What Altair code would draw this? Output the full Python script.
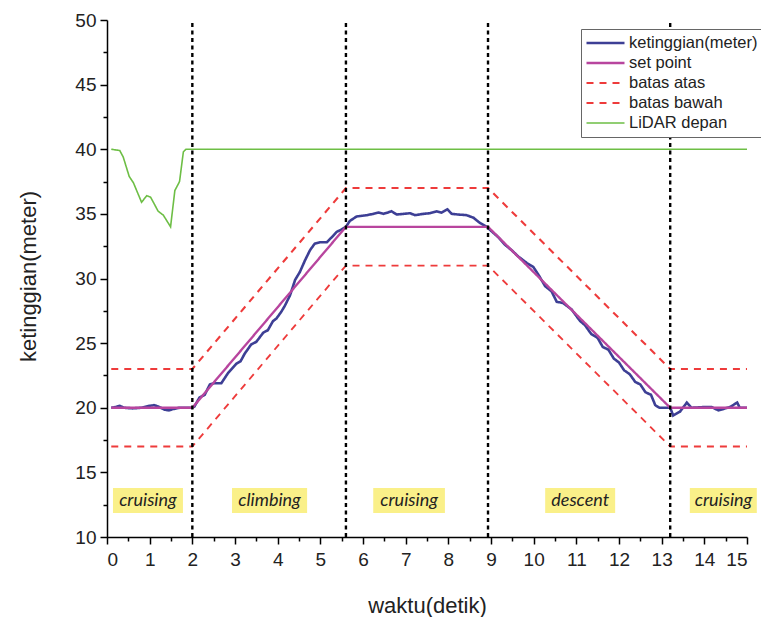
import altair as alt
import pandas as pd

# Measured altitude (s, m)
t_alt = [0.1, 0.2, 0.3, 0.4, 0.6, 0.8, 1.0, 1.1, 1.2, 1.35, 1.45, 1.55, 1.7, 2.0,
         2.05, 2.17, 2.29, 2.41, 2.52, 2.68, 2.84, 3.03, 3.13, 3.23, 3.38, 3.50,
         3.66, 3.77, 3.89, 3.97, 4.08, 4.17, 4.29, 4.41, 4.52, 4.64, 4.76, 4.87,
         4.99, 5.15, 5.27, 5.38, 5.50, 5.60, 5.69, 5.85, 6.09, 6.24, 6.36, 6.48,
         6.67, 6.79, 6.95, 7.10, 7.22, 7.41, 7.57, 7.73, 7.84, 7.98, 8.08, 8.23,
         8.43, 8.59, 8.74, 8.90, 8.98, 9.17, 9.33, 9.48, 9.64, 9.84, 9.99, 10.11,
         10.27, 10.42, 10.54, 10.69, 10.89, 11.09, 11.20, 11.35, 11.50, 11.62,
         11.75, 11.88, 12.00, 12.12, 12.25, 12.38, 12.50, 12.62, 12.75, 12.85,
         12.95, 13.20, 13.27, 13.43, 13.59, 13.70, 13.98, 14.17, 14.33, 14.60,
         14.77, 14.83, 15.00]
h_alt = [20.0, 20.05, 20.15, 20.0, 19.95, 20.0, 20.15, 20.2, 20.1, 19.85, 19.8, 19.9, 20.0, 20.0,
         20.1, 20.8, 21.0, 21.8, 21.9, 21.9, 22.7, 23.4, 23.6, 24.2, 24.9, 25.1,
         25.8, 26.0, 26.7, 26.9, 27.4, 27.9, 28.7, 29.9, 30.5, 31.4, 32.2, 32.7,
         32.8, 32.8, 33.2, 33.6, 33.8, 34.0, 34.45, 34.8, 34.9, 35.0, 35.1, 35.0,
         35.2, 34.95, 35.0, 35.05, 34.9, 35.0, 35.05, 35.2, 35.1, 35.35, 35.0, 34.95,
         34.9, 34.7, 34.3, 34.0, 33.75, 33.2, 32.6, 32.2, 31.7, 31.2, 30.9, 30.3,
         29.4, 29.0, 28.2, 28.1, 27.6, 26.7, 26.4, 25.7, 25.4, 24.7,
         24.5, 23.8, 23.5, 22.9, 22.6, 22.0, 21.8, 21.2, 21.0, 20.2,
         20.0, 20.0, 19.4, 19.7, 20.4, 20.0, 20.05, 20.05, 19.8, 20.05,
         20.4, 20.0, 20.0]

# Set point and tolerance band
t_sp = [0.1, 2.0, 5.6, 8.93, 13.2, 15.0]
h_sp = [20, 20, 34, 34, 20, 20]
h_upper = [23, 23, 37, 37, 23, 23]
h_lower = [17, 17, 31, 31, 17, 17]

# Front LiDAR reading
t_lidar = [0.1, 0.3, 0.38, 0.52, 0.62, 0.81, 0.93, 1.02, 1.20, 1.32, 1.49,
           1.59, 1.70, 1.79, 1.85, 15.0]
h_lidar = [40.0, 39.9, 39.4, 37.9, 37.4, 35.9, 36.4, 36.3, 35.2, 34.9, 34.0,
           36.8, 37.5, 39.8, 40.0, 40.0]

# Flight phases
phase_bounds = [2.0, 5.6, 8.93, 13.2]
phase_names = ["cruising", "climbing", "cruising", "descent", "cruising"]
phase_mid = [0.96, 3.81, 7.08, 11.09, 14.45]
phase_lo = [0.14, 2.93, 6.24, 10.27, 13.66]
phase_hi = [1.78, 4.69, 7.92, 11.91, 15.23]
phase_y, phase_y0, phase_y1 = 12.82, 11.86, 13.79

series_names = ["ketinggian(meter)", "set point", "batas atas", "batas bawah", "LiDAR depan"]
series_colors = ["#3D3F95", "#B8459E", "#EE3B3B", "#EE3B3B", "#6DBE45"]
series_dash = [[1, 0], [1, 0], [7, 6], [7, 6], [1, 0]]
series_width = [2.6, 1.6, 1.8, 1.8, 1.8]

frames = [
    pd.DataFrame({"t": t_lidar, "h": h_lidar, "s": "LiDAR depan"}),
    pd.DataFrame({"t": t_sp, "h": h_upper, "s": "batas atas"}),
    pd.DataFrame({"t": t_sp, "h": h_lower, "s": "batas bawah"}),
    pd.DataFrame({"t": t_alt, "h": h_alt, "s": "ketinggian(meter)"}),
    pd.DataFrame({"t": t_sp, "h": h_sp, "s": "set point"}),
]
lines_df = pd.concat(frames, ignore_index=True)

x_major = list(range(0, 16))
x_minor = [i + 0.5 for i in range(15)]
y_major = list(range(10, 51, 5))
y_minor = [12.5 + 5 * i for i in range(8)]

x_scale = alt.Scale(domain=[0, 15], nice=False, zero=False)
y_scale = alt.Scale(domain=[10, 50], nice=False, zero=False)

x_axis = alt.Axis(
    values=x_major, tickSize=7, orient="bottom",
    title="waktu(detik)", titleX=320, titleY=68, titleBaseline="middle",
    labelPadding=6, grid=False,
)
y_axis = alt.Axis(
    values=y_major, tickSize=7, orient="left",
    title="ketinggian(meter)", titleX=-79, titleY=256, titleAngle=-90,
    titleAlign="center", titleBaseline="middle",
    labelPadding=4, grid=False,
)
x_minor_axis = alt.Axis(values=x_minor, tickSize=4, orient="bottom", labels=False,
                        domain=False, title=None, grid=False)
y_minor_axis = alt.Axis(values=y_minor, tickSize=4, orient="left", labels=False,
                        domain=False, title=None, grid=False)

lines = alt.Chart(lines_df).mark_line().encode(
    x=alt.X("t:Q", scale=x_scale, axis=x_axis),
    y=alt.Y("h:Q", scale=y_scale, axis=y_axis),
    detail="s:N",
    color=alt.Color(
        "s:N",
        scale=alt.Scale(domain=series_names, range=series_colors),
        legend=alt.Legend(
            title=None, orient="none", legendX=474, legendY=9,
            symbolType="stroke", symbolSize=1444, clipHeight=20,
            labelFont="Liberation Sans", labelFontSize=16.5, labelColor="#222",
            labelOffset=3, rowPadding=0, padding=4,
            strokeColor="#666", fillColor="white",
        ),
    ),
    strokeDash=alt.StrokeDash("s:N", scale=alt.Scale(domain=series_names, range=series_dash)),
    strokeWidth=alt.StrokeWidth("s:N", scale=alt.Scale(domain=series_names, range=series_width)),
)

# Phase boundaries; this layer also carries the minor ticks
bounds_df = pd.DataFrame({"t": phase_bounds})
rules = alt.Chart(bounds_df).mark_rule(
    color="black", strokeWidth=2.4, strokeDash=[4, 3.5]
).encode(
    x=alt.X("t:Q", scale=x_scale, axis=x_minor_axis),
    y=alt.datum(10, scale=y_scale, axis=y_minor_axis),
    y2=alt.datum(50),
)

phase_df = pd.DataFrame({
    "name": phase_names, "mid": phase_mid, "lo": phase_lo, "hi": phase_hi,
    "y": phase_y, "y0": phase_y0, "y1": phase_y1,
})
boxes = alt.Chart(phase_df).mark_rect(color="#FAF089").encode(
    x=alt.X("lo:Q", scale=x_scale, axis=None), x2="hi",
    y=alt.Y("y0:Q", scale=y_scale, axis=None), y2="y1",
)
texts = alt.Chart(phase_df).mark_text(
    font="Lato", fontSize=18, fontStyle="italic", color="#222"
).encode(
    x=alt.X("mid:Q", scale=x_scale, axis=None),
    y=alt.Y("y:Q", scale=y_scale, axis=None),
    text="name:N",
)

chart = alt.layer(boxes, texts, lines, rules).resolve_axis(
    x="independent", y="independent"
).properties(
    width=640, height=517,
    padding={"left": 107, "top": 20, "right": 14, "bottom": 80},
    autosize=alt.AutoSizeParams(type="none"),
).configure_view(stroke=None).configure_axis(
    domainColor="black", domainWidth=1.5, tickColor="black", tickWidth=1.5,
    labelFont="Liberation Sans", labelFontSize=19, labelColor="#222",
    titleFont="Liberation Sans", titleFontSize=22, titleFontWeight="normal", titleColor="#222",
)

chart.save("out.html", embed_options={"renderer": "svg", "actions": False})
